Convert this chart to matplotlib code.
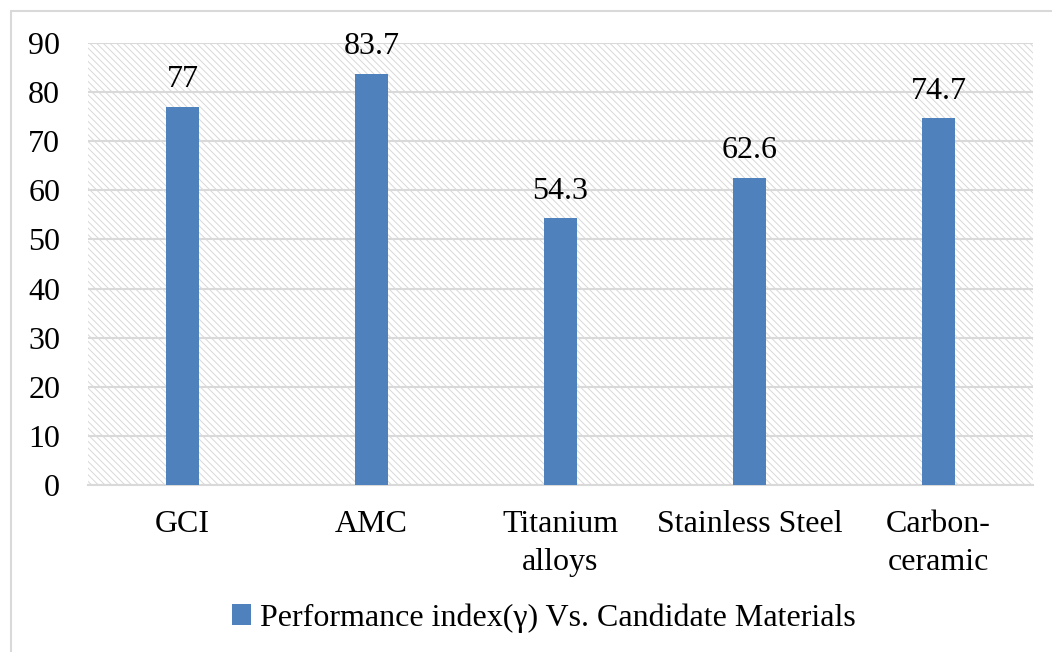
import matplotlib.pyplot as plt
from matplotlib.patches import Rectangle
import numpy as np

materials = ['GCI', 'AMC', 'Titanium\nalloys', 'Stainless Steel', 'Carbon-\nceramic']
performance = [77, 83.7, 54.3, 62.6, 74.7]
series_name = 'Performance index(γ) Vs. Candidate Materials'

plt.rcParams['font.family'] = ['Liberation Serif', 'DejaVu Serif']
plt.rcParams['hatch.linewidth'] = 0.7
plt.rcParams['hatch.color'] = '#d8d8d8'

W, H = 1052, 652
fig = plt.figure(figsize=(W / 100, H / 100), dpi=100)

# outer chart frame (right and bottom edges run off the canvas)
fig.patches.append(Rectangle((11 / W, -0.1), 1.2, 1 - 11 / H + 0.1,
                             transform=fig.transFigure, fill=False,
                             edgecolor='#d9d9d9', linewidth=1.5))

ax = fig.add_axes([88 / W, 1 - 485 / H, (1033 - 88) / W, (485 - 43) / H])
ax.patch.set_facecolor('white')
ax.patch.set_hatch('\\\\\\\\\\')
ax.patch.set_edgecolor('#d8d8d8')
ax.patch.set_linewidth(0)

x = np.arange(len(materials))
bars = ax.bar(x, performance, width=0.17, color='#4f81bd', zorder=3,
              label=series_name)
ax.bar_label(bars, labels=[f'{v:g}' for v in performance], padding=9,
             fontsize=23)

ax.set_xlim(-0.5, len(materials) - 0.5)
ax.set_ylim(0, 90)
ax.set_yticks(np.arange(0, 91, 10))
ax.yaxis.grid(True, color='#d9d9d9', linewidth=1.5, zorder=1)
ax.set_axisbelow(True)
for side in ['top', 'right', 'left']:
    ax.spines[side].set_visible(False)
ax.spines['bottom'].set_color('#d9d9d9')
ax.spines['bottom'].set_linewidth(1.5)

ax.set_xticks(x)
ax.set_xticklabels(materials, fontsize=23, linespacing=1.4)
ax.tick_params(axis='x', length=0, pad=18)
ax.tick_params(axis='y', length=0, pad=20, labelsize=23)

fig.legend(handles=[bars], labels=[series_name], loc='center',
           bbox_to_anchor=(544 / W, 1 - 618 / H), frameon=False,
           fontsize=23, handlelength=0.6, handleheight=0.6,
           handletextpad=0.3)

fig.savefig('out.png', dpi=100)
